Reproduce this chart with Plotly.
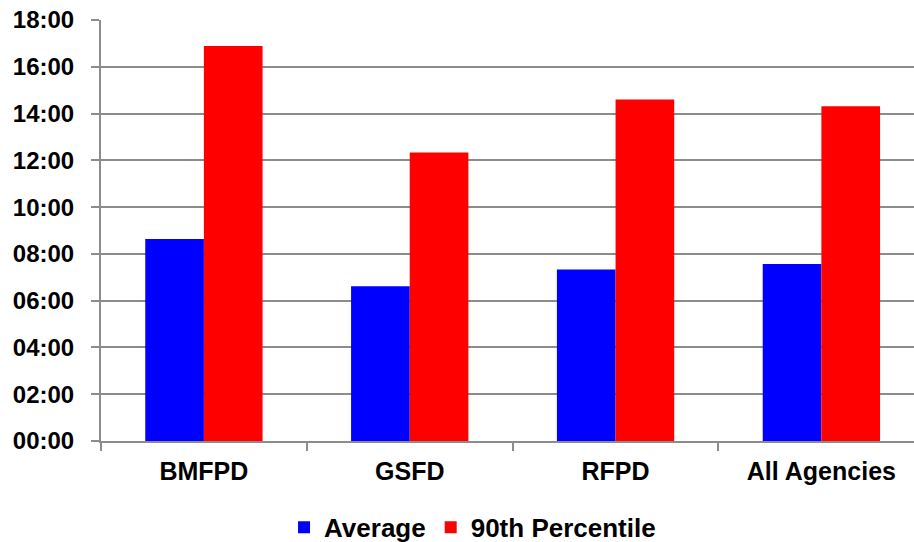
import plotly.graph_objects as go

# Response times by agency (mm:ss)
agencies = ["BMFPD", "GSFD", "RFPD", "All Agencies"]
average_times = ["08:38", "06:37", "07:20", "07:34"]
p90_times = ["16:53", "12:20", "14:36", "14:19"]
tick_minutes = [0, 2, 4, 6, 8, 10, 12, 14, 16, 18]
tick_labels = ["00:00", "02:00", "04:00", "06:00", "08:00", "10:00",
               "12:00", "14:00", "16:00", "18:00"]


def to_minutes(t):
    m, s = t.split(":")
    return int(m) + int(s) / 60.0


avg_min = [to_minutes(t) for t in average_times]
p90_min = [to_minutes(t) for t in p90_times]

FONT = "Liberation Sans, Arial, sans-serif"
GRID = "#8c8c8c"


def txt(size):
    return dict(family=FONT, size=size, color="black", weight="bold")


fig = go.Figure()
fig.add_trace(go.Bar(name="Average", x=agencies, y=avg_min,
                     marker=dict(color="#0000FF", line=dict(width=0))))
fig.add_trace(go.Bar(name="90th Percentile", x=agencies, y=p90_min,
                     marker=dict(color="#FF0000", line=dict(width=0))))

fig.update_layout(
    width=914, height=542,
    margin=dict(l=101, r=0, t=20, b=101, autoexpand=False),
    paper_bgcolor="white", plot_bgcolor="white",
    barmode="group", bargap=0.43, bargroupgap=0,
    font=dict(family=FONT, size=24, color="black"),
    showlegend=True,
    legend=dict(orientation="h", x=0.457, xanchor="center",
                y=-0.205, yanchor="middle",
                font=txt(26), itemwidth=30, tracegroupgap=0),
)

fig.update_xaxes(
    type="category", range=[-0.5, 3.45], automargin=False,
    showline=True, linecolor=GRID, linewidth=2,
    ticks="outside", tickson="boundaries", ticklen=8, tickcolor=GRID, tickwidth=2,
    tickfont=txt(25), ticklabelstandoff=7,
    showgrid=False,
)
fig.update_yaxes(
    range=[0, 18], tickvals=tick_minutes, ticktext=tick_labels, automargin=False,
    showline=True, linecolor=GRID, linewidth=2,
    ticks="outside", ticklen=8, tickcolor=GRID, tickwidth=2,
    tickfont=txt(24), ticklabelstandoff=12,
    showgrid=True, gridcolor=GRID, gridwidth=2,
    zeroline=False,
)

fig.write_html("out.html")
